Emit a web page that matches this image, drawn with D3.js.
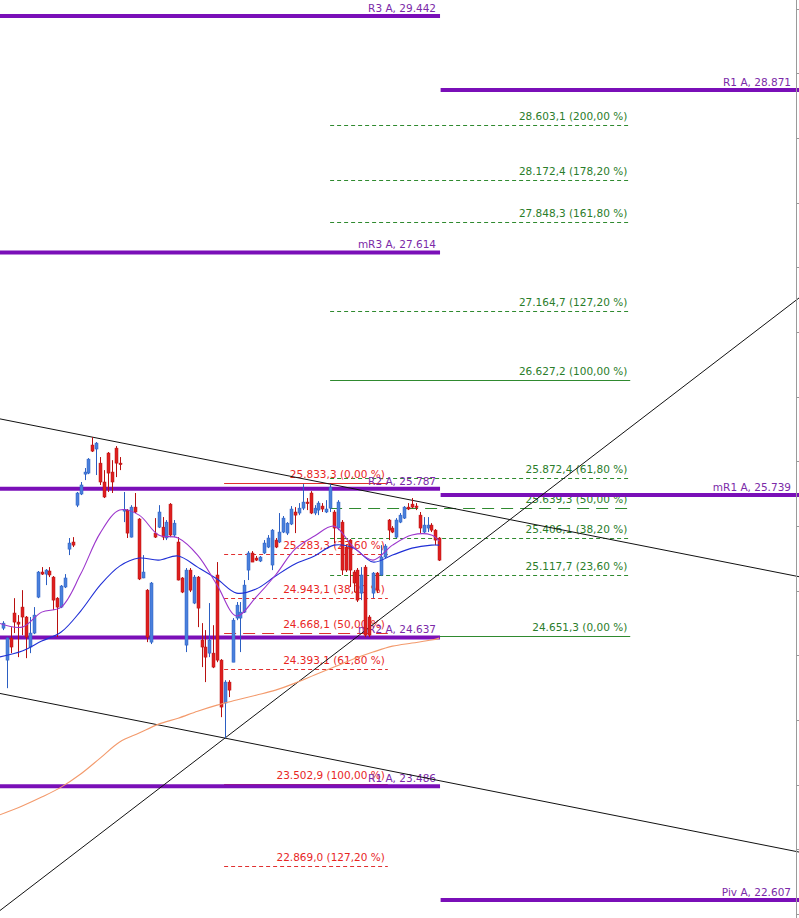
<!DOCTYPE html>
<html><head><meta charset="utf-8">
<script src="https://cdn.jsdelivr.net/npm/d3@7"></script>
<style>html,body{margin:0;padding:0;background:#fff;overflow:hidden}</style>
</head><body>
<svg id="c" width="799" height="918"></svg>
<script>
// ---------- DATA ----------
const opens  = [24.709,24.462,24.632,24.826,24.756,24.872,24.795,24.563,24.671,24.949,25.143,25.127,25.151,25.104,24.941,24.872,25.027,25.320,25.375,25.660,25.746,25.900,25.908,26.125,26.094,25.985,25.839,26.063,25.916,26.101,25.985,25.614,25.622,25.413,25.645,25.553,25.097,25.003,24.601,25.444,25.490,25.490,25.406,25.668,25.429,25.375,25.097,24.578,25.158,24.903,25.104,24.617,24.563,24.516,24.516,25.120,24.462,24.130,24.292,24.446,24.787,24.787,24.833,25.158,25.290,25.251,25.228,25.290,25.336,25.197,25.390,25.375,25.452,25.444,25.514,25.607,25.599,25.637,25.684,25.754,25.599,25.622,25.653,25.607,25.637,25.607,25.483,25.529,25.336,25.390,25.143,25.158,24.980,25.181,24.795,24.980,25.135,25.120,25.259,25.545,25.483,25.413,25.529,25.560,25.645,25.668,25.653,25.583,25.452,25.483,25.506,25.467,25.406];
const highs  = [24.763,24.640,24.717,24.941,24.810,25.003,24.803,24.795,24.872,25.151,25.181,25.166,25.181,25.112,24.949,25.042,25.127,25.406,25.413,25.762,25.839,25.947,26.024,26.186,26.148,26.032,25.931,26.071,26.008,26.117,26.032,25.762,25.630,25.660,25.754,25.560,25.274,25.011,25.066,25.560,25.660,25.568,25.545,25.676,25.545,25.413,25.104,25.174,25.174,25.120,25.112,24.748,24.694,24.903,24.732,25.220,24.470,24.307,24.307,24.787,24.911,24.911,25.081,25.305,25.305,25.267,25.267,25.390,25.429,25.475,25.406,25.599,25.576,25.529,25.653,25.645,25.676,25.823,25.715,25.769,25.660,25.691,25.676,25.699,25.823,25.622,25.699,25.545,25.351,25.398,25.158,25.174,25.181,25.197,24.810,25.143,25.143,25.351,25.359,25.553,25.498,25.560,25.599,25.653,25.676,25.715,25.676,25.607,25.568,25.568,25.521,25.475,25.413];
const lows   = [24.694,24.245,24.516,24.671,24.485,24.655,24.477,24.516,24.663,24.941,25.120,25.042,25.104,24.849,24.640,24.864,25.019,25.274,25.336,25.645,25.738,25.854,25.900,26.071,25.893,25.816,25.715,25.762,25.754,25.877,25.931,25.529,25.406,25.410,25.599,25.081,25.095,24.601,24.586,25.406,25.483,25.390,25.390,25.413,25.413,25.078,24.980,24.524,24.988,24.895,24.717,24.408,24.292,24.485,24.400,24.446,24.021,23.859,24.176,24.446,24.771,24.524,24.826,25.081,25.220,25.228,25.220,25.282,25.328,25.158,25.328,25.367,25.444,25.429,25.506,25.444,25.583,25.622,25.622,25.591,25.583,25.583,25.607,25.599,25.607,25.367,25.467,25.120,25.143,25.027,24.988,24.911,24.926,24.640,24.640,24.941,24.980,25.112,25.251,25.390,25.444,25.406,25.521,25.553,25.622,25.637,25.622,25.444,25.444,25.452,25.452,25.351,25.228];
const closes = [24.748,24.632,24.563,24.756,24.740,24.795,24.640,24.671,24.810,25.143,25.127,25.158,25.120,24.926,24.872,25.035,25.097,25.367,25.351,25.754,25.816,25.916,26.016,26.078,26.140,25.839,25.723,25.908,25.839,25.985,25.974,25.626,25.444,25.645,25.607,25.089,25.143,24.640,25.058,25.413,25.607,25.413,25.529,25.429,25.521,25.081,24.988,25.158,25.003,25.104,24.864,24.563,24.485,24.617,24.408,24.462,24.099,24.292,24.230,24.771,24.887,24.833,25.042,25.290,25.220,25.235,25.259,25.367,25.406,25.467,25.336,25.452,25.560,25.521,25.630,25.583,25.637,25.684,25.672,25.599,25.637,25.676,25.630,25.630,25.800,25.483,25.684,25.158,25.158,25.158,25.058,24.926,25.120,24.655,24.655,25.135,25.003,25.259,25.344,25.467,25.452,25.545,25.583,25.645,25.630,25.645,25.641,25.483,25.506,25.506,25.467,25.390,25.235];

// moving averages read at sample bars
const maBars = [-1,5,10,15,20,25,30,35,40,45,50,55,60,65,70,75,80,85,90,95,100,105,110,112];
const maFast = [24.748,24.717,24.833,24.872,25.127,25.444,25.622,25.583,25.429,25.406,25.274,25.042,24.803,24.949,25.120,25.320,25.421,25.498,25.336,25.235,25.351,25.429,25.429,25.382];
const maMid  = [24.485,24.532,24.609,24.679,24.841,25.042,25.189,25.251,25.235,25.267,25.181,25.089,24.980,25.011,25.112,25.205,25.267,25.351,25.328,25.220,25.274,25.328,25.351,25.351];
const maSlow = [23.263,23.334,23.403,23.480,23.581,23.704,23.829,23.898,23.967,24.013,24.067,24.114,24.153,24.191,24.230,24.284,24.346,24.408,24.470,24.524,24.570,24.594,24.617,24.632];

// pivot levels
const pivotPrevNames = ["R3 A","mR3 A","R2 A","mR2 A","R1 A"];
const pivotPrevVals  = [29.442,27.614,25.787,24.637,23.486];
const pivotCurrNames = ["R1 A","mR1 A","Piv A"];
const pivotCurrVals  = [28.871,25.739,22.607];

// fibonacci levels
const fibGreenVals = [28.6031,28.1724,27.8483,27.1647,26.6272,25.8724,25.6393,25.4061,25.1177,24.6513];
const fibGreenPct  = ["200,00","178,20","161,80","127,20","100,00","61,80","50,00","38,20","23,60","0,00"];
const fibRedVals   = [25.8333,25.2833,24.9431,24.6681,24.3931,23.5029,22.869];
const fibRedPct    = ["0,00","23,60","38,20","50,00","61,80","100,00","127,20"];

// trend lines (bar, price)
const trendUpper = [[23,26.186],[84,25.823]];
const trendLower = [[57,23.859],[204.3,22.978]];
const trendRise  = [[57,23.859],[204.3,27.262]];

// right price axis ticks
const axisTicks = [22.5,23.0,23.5,24.0,24.5,25.0,25.5,26.0,26.5,27.0,27.5,28.0,28.5,29.0,29.5];

// ---------- DRAW ----------
const W = 799, H = 918;
const svg = d3.select("#c");
const x = d3.scaleLinear().domain([-0.7, 204.3]).range([0, W]);
const y = d3.scaleLinear().domain([22.468, 29.566]).range([H, 0]);
const FONT = "DejaVu Sans, Verdana, sans-serif";

const fmtFib = v => { const s = v.toFixed(4); return s.slice(0,-1) + "," + s.slice(-1); };

function fibSet(vals, pcts, x0, x1, lineCol, textCol, g) {
  vals.forEach((v, i) => {
    const p = pcts[i];
    let dash = "4,3";
    if (p === "0,00" || p === "100,00") dash = null;
    else if (p === "50,00") dash = "12,7";
    const yy = Math.round(y(v)) + 0.5;
    g.append("line").attr("x1", x(x0)).attr("x2", x(x1)).attr("y1", yy).attr("y2", yy)
      .attr("stroke", lineCol).attr("stroke-width", 1).attr("stroke-dasharray", dash);
  });
  vals.forEach((v, i) => {
    g.append("text").attr("x", x(x1) - 3).attr("y", y(v) - 5)
      .attr("text-anchor", "end").attr("font-family", FONT).attr("font-size", "10.5px")
      .attr("fill", textCol).text(fmtFib(v) + " (" + pcts[i] + " %)");
  });
}
const gFib = svg.append("g");
fibSet(fibGreenVals, fibGreenPct, 84, 161, "#2f8a2f", "#2a7d2a", gFib);
fibSet(fibRedVals, fibRedPct, 56.8, 98.8, "#e03030", "#e8261f", gFib);

// pivots
const gPiv = svg.append("g");
function pivSet(names, vals, x0, x1, pad) {
  vals.forEach((v, i) => {
    gPiv.append("line").attr("x1", x(x0)).attr("x2", x(x1)).attr("y1", y(v)).attr("y2", y(v))
      .attr("stroke", "#7a0fb8").attr("stroke-width", 4);
  });
  vals.forEach((v, i) => {
    gPiv.append("text").attr("x", x(x1) - pad).attr("y", y(v) - 4)
      .attr("text-anchor", "end").attr("font-family", FONT).attr("font-size", "10.5px")
      .attr("fill", "#7b2aa8").text(names[i] + ", " + v.toFixed(3));
  });
}
pivSet(pivotPrevNames, pivotPrevVals, -0.7, 112.2, 4);
pivSet(pivotCurrNames, pivotCurrVals, 112.35, 204.3, 8);

// trend lines, extended across the plot
const gTr = svg.append("g");
[trendUpper, trendLower, trendRise].forEach(t => {
  const [a, b] = t;
  const slope = (b[1] - a[1]) / (b[0] - a[0]);
  const d0 = x.domain()[0], d1 = x.domain()[1];
  gTr.append("line")
    .attr("x1", x(d0)).attr("y1", y(a[1] + slope * (d0 - a[0])))
    .attr("x2", x(d1)).attr("y2", y(a[1] + slope * (d1 - a[0])))
    .attr("stroke", "#111").attr("stroke-width", 1);
});

// candles
const gC = svg.append("g");
opens.forEach((o, i) => {
  const c = closes[i], up = c >= o;
  const px = Math.round(x(i));
  const body = up ? "#4a80dc" : "#de1f1f";
  const wick = up ? "#2b5ec2" : "#b81010";
  gC.append("line").attr("x1", px + 0.5).attr("x2", px + 0.5)
    .attr("y1", y(highs[i])).attr("y2", y(lows[i]))
    .attr("stroke", wick).attr("stroke-width", 1);
  const top = y(Math.max(o, c)), bot = y(Math.min(o, c));
  gC.append("rect").attr("x", px - 1).attr("width", 3)
    .attr("y", top).attr("height", Math.max(1.5, bot - top))
    .attr("fill", body).attr("stroke", wick).attr("stroke-width", 0.5);
});

// moving averages
const gMa = svg.append("g").attr("fill", "none");
const lineGen = d3.line().x(d => x(d[0])).y(d => y(d[1])).curve(d3.curveCatmullRom.alpha(0.5));
[[maSlow, "#f39a6c"], [maMid, "#1f2fd6"], [maFast, "#9c36cc"]].forEach(([arr, col]) => {
  gMa.append("path").attr("d", lineGen(maBars.map((b, i) => [b, arr[i]])))
    .attr("stroke", col).attr("stroke-width", 1.1);
});

// right price axis
const gAx = svg.append("g");
gAx.append("line").attr("x1", 796.5).attr("x2", 796.5).attr("y1", 0).attr("y2", H)
  .attr("stroke", "#9a9a9a").attr("stroke-width", 1);
axisTicks.forEach(t => {
  const yy = Math.round(y(t)) + 0.5;
  gAx.append("line").attr("x1", 796.5).attr("x2", 799).attr("y1", yy).attr("y2", yy)
    .attr("stroke", "#9a9a9a").attr("stroke-width", 1);
});
</script>
</body></html>
